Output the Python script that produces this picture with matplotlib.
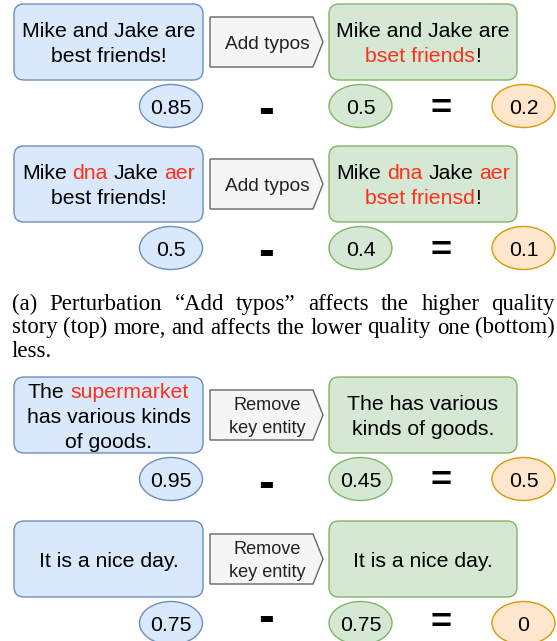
import matplotlib
matplotlib.use('Agg')
import matplotlib.pyplot as plt
from matplotlib.patches import FancyBboxPatch, Ellipse, Polygon

RED = '#ff3019'
K = 'black'

# sentences: each line is a list of (text, colour) pieces
original_texts = [
    [[('Mike and Jake are', K)], [('best friends!', K)]],
    [[('Mike ', K), ('dna', RED), (' Jake ', K), ('aer', RED)], [('best friends!', K)]],
    [[('The ', K), ('supermarket', RED)], [('has various kinds', K)], [('of goods.', K)]],
    [[('It is a nice day.', K)]],
]
perturbed_texts = [
    [[('Mike and Jake are', K)], [('bset friends', RED), ('!', K)]],
    [[('Mike ', K), ('dna', RED), (' Jake ', K), ('aer', RED)], [('bset friensd', RED), ('!', K)]],
    [[('The has various', K)], [('kinds of goods.', K)]],
    [[('It is a nice day.', K)]],
]
perturbations = ['Add typos', 'Add typos', 'Remove\nkey entity', 'Remove\nkey entity']
original_scores = ['0.85', '0.5', '0.95', '0.75']
perturbed_scores = ['0.5', '0.4', '0.45', '0.75']
differences = ['0.2', '0.1', '0.5', '0']

caption_lines = [
    '(a) Perturbation \u201cAdd typos\u201d affects the higher quality',
    'story (top) more, and affects the lower quality one (bottom)',
    'less.',
]

row_tops = [4, 146, 377, 521]

W, H = 557, 641
fig = plt.figure(figsize=(W / 100, H / 100), dpi=100)
ax = fig.add_axes([0, 0, 1, 1])
ax.set_xlim(0, W)
ax.set_ylim(H, 0)
ax.axis('off')
renderer = fig.canvas.get_renderer()

SANS = 'Liberation Sans'
SERIF = 'Liberation Serif'
FS = 15.3


def text_width(s, size, family=SANS, weight='normal'):
    t = ax.text(0, 0, s, fontsize=size, family=family, weight=weight)
    w = t.get_window_extent(renderer).width
    t.remove()
    return w


def rich_line(cx, baseline, pieces, size=FS):
    sp = text_width('a a', size) - text_width('aa', size)
    parts = []
    total = 0
    for s, c in pieces:
        lead = len(s) - len(s.lstrip(' '))
        trail = len(s) - len(s.rstrip(' '))
        w = text_width(s.strip(), size)
        parts.append((s.strip(), c, lead * sp, w, trail * sp))
        total += lead * sp + w + trail * sp
    x = cx - total / 2
    for s, c, l, w, t in parts:
        x += l
        ax.text(x, baseline, s, fontsize=size, family=SANS, color=c,
                ha='left', va='baseline')
        x += w + t


def text_block(cx, cy, lines, size=FS, spacing=25):
    cap = 0.716 * size * 100 / 72
    n = len(lines)
    b0 = cy + cap / 2 - (n - 1) * spacing / 2
    for i, ln in enumerate(lines):
        rich_line(cx, b0 + i * spacing, ln, size)


def box(x0, y0, x1, y1, fc, ec):
    ax.add_patch(FancyBboxPatch((x0, y0), x1 - x0, y1 - y0,
                                boxstyle='round,pad=0,rounding_size=10',
                                fc=fc, ec=ec, lw=1.0))


def oval(cx, cy, label, fc, ec):
    ax.add_patch(Ellipse((cx, cy), 63, 43, fc=fc, ec=ec, lw=1.0))
    rich_line(cx, cy + 0.716 * FS * 100 / 72 / 2, [(label, K)])


for i, top in enumerate(row_tops):
    # source story
    box(14, top, 203, top + 76, '#dae8fc', '#6c8ebf')
    text_block(108.5, top + 38, original_texts[i])
    # perturbation arrow
    a0, a1 = top + 13, top + 63
    ax.add_patch(Polygon([(210, a0), (313, a0), (323, (a0 + a1) / 2), (313, a1), (210, a1)],
                         closed=True, fc='#f5f5f5', ec='#666666', lw=1.0))
    plines = perturbations[i].split('\n')
    psize = 13.8 if len(plines) == 1 else 13.1
    text_block(267, (a0 + a1) / 2, [[(p, '#222222')] for p in plines], size=psize, spacing=23)
    # perturbed story
    box(329, top, 517, top + 76, '#d5e8d4', '#82b366')
    text_block(423, top + 38, perturbed_texts[i])
    # scores
    cy = top + 102
    oval(171, cy, original_scores[i], '#dae8fc', '#6c8ebf')
    oval(360.5, cy, perturbed_scores[i], '#d5e8d4', '#82b366')
    oval(523.5, cy, differences[i], '#ffe6cc', '#d79b00')
    # keep the operator glyph boxes inside the figure on the last row
    minus_base = min(cy + 17.5, H - 10.5)
    eq_base = min(cy + 12.5, H - 8)
    ax.text(266, minus_base, '-', fontsize=34, family=SANS, weight='bold',
            ha='center', va='baseline')
    ax.text(441, eq_base, '=', fontsize=26, family=SANS, weight='bold',
            ha='center', va='baseline')

# caption, justified; size fitted so the second line fills the column
x_left, x_right = 12, 556
CFS = 16.2
for _ in range(3):
    csp = text_width('a a', CFS, SERIF) - text_width('aa', CFS, SERIF)
    ws = caption_lines[1].split(' ')
    natural = sum(text_width(w, CFS, SERIF) for w in ws) + (len(ws) - 1) * csp
    CFS *= (x_right - x_left) / natural

csp = text_width('a a', CFS, SERIF) - text_width('aa', CFS, SERIF)
for j, line in enumerate(caption_lines):
    base = 310 + j * 23.5
    words = line.split(' ')
    widths = [text_width(w, CFS, SERIF) for w in words]
    if j < len(caption_lines) - 1:
        gap = (x_right - 1 - x_left - sum(widths)) / (len(words) - 1)
    else:
        gap = csp
    x = x_left
    for w, wd in zip(words, widths):
        ax.text(x, base, w, fontsize=CFS, family=SERIF, ha='left', va='baseline')
        x += wd + gap

fig.savefig('out.png', dpi=100)
